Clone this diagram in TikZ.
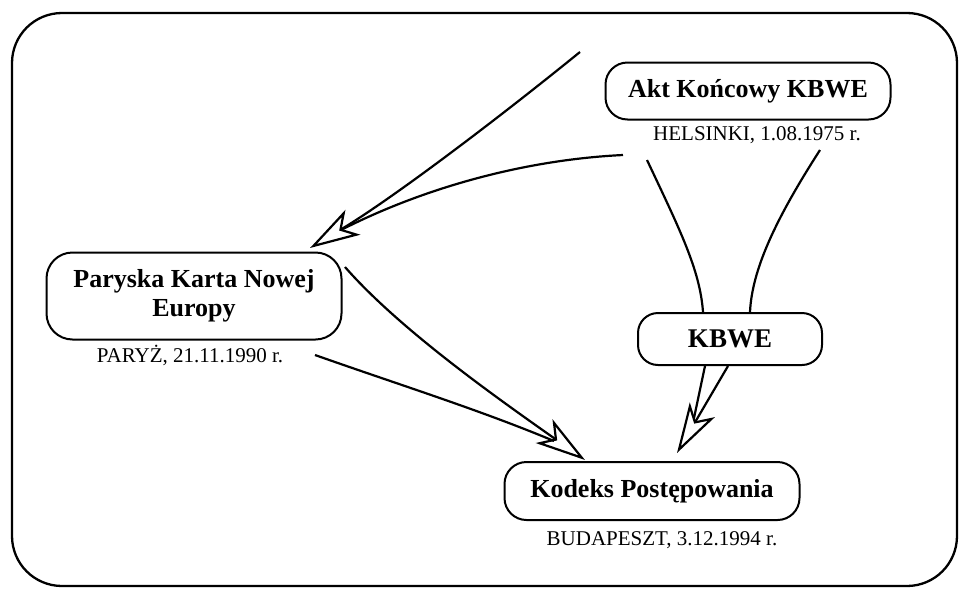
\documentclass[tikz,border=0pt]{standalone}
\usepackage{fontspec}
\setmainfont{Liberation Serif}
\usetikzlibrary{arrows.meta}
\begin{document}
\begin{tikzpicture}[x=1pt,y=-1pt,
  box/.style={draw, line width=2pt, align=center, inner sep=0pt,
    font=\fontsize{26}{29}\selectfont\bfseries},
  lbl/.style={inner sep=0pt, font=\fontsize{21}{24}\selectfont},
  con/.style={line width=2.2pt},
  bigtip/.tip={Stealth[open,length=50pt,width=29pt,inset=13pt]},
  arr/.style={con,-bigtip}]
\useasboundingbox (0,0) rectangle (962,590);
\fill[white] (0,0) rectangle (962,590);
\draw[line width=2.3pt, rounded corners=50pt] (12,13) rectangle (957,586);

% nodes
\node[box, minimum width=285pt, minimum height=57pt, rounded corners=22pt] (akt) at (748,91) {Akt Końcowy KBWE};
\node[lbl] (aktl) at (757,135) {HELSINKI, 1.08.1975 r.};
\node[box, minimum width=295pt, minimum height=87pt, rounded corners=26pt] (par) at (194,296) {Paryska Karta Nowej\\Europy};
\node[lbl] (parl) at (190,355) {PARYŻ, 21.11.1990 r.};
\node[box, minimum width=184pt, minimum height=52pt, rounded corners=20pt, font=\fontsize{27}{30}\selectfont\bfseries] (kbwe) at (730,339) {KBWE};
\node[box, minimum width=295pt, minimum height=58pt, rounded corners=22pt] (kod) at (652,491) {Kodeks Postępowania};
\node[lbl] (kodl) at (662,540) {BUDAPESZT, 3.12.1994 r.};

% free ends
\coordinate (s1) at (580,52);
\coordinate (s2) at (623,155);
\coordinate (tP) at (310,248);
\coordinate (nP) at (343,229);
\coordinate (sB1) at (345,267);
\coordinate (sB2) at (315,355);
\coordinate (tK) at (585,460);
\coordinate (nK) at (554,441);
\coordinate (sC1) at (647,160);
\coordinate (sC2) at (820,150);
\coordinate (tKB) at (677,453);
\coordinate (nKB) at (694,418);

% connectors
\draw[arr] (s1) .. controls (490,125) and (390,200) .. (tP);
\draw[con] (s2) .. controls (520,160) and (420,190) .. (nP);
\draw[arr] (sB1) .. controls (400,330) and (500,400) .. (tK);
\draw[con] (sB2) .. controls (400,385) and (480,410) .. (nK);
\draw[con] (sC1) .. controls (680,230) and (700,270) .. ([xshift=-27pt]kbwe.north);
\draw[con] (sC2) .. controls (775,220) and (752,270) .. ([xshift=20pt]kbwe.north);
\draw[arr] ([xshift=-2pt]kbwe.south) -- (tKB);
\draw[con] ([xshift=-25pt]kbwe.south) -- (nKB);
\end{tikzpicture}
\end{document}
